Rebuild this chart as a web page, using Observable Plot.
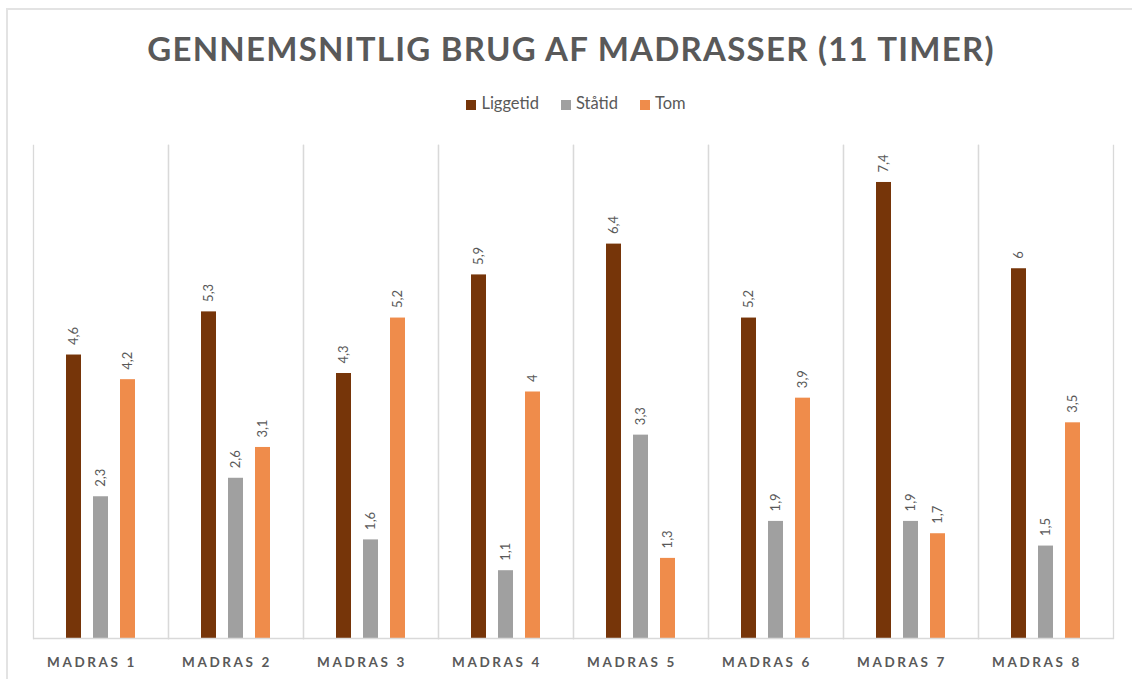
<!DOCTYPE html>
<html>
<head>
<meta charset="utf-8">
<script src="https://cdn.jsdelivr.net/npm/d3@7"></script>
<script src="https://cdn.jsdelivr.net/npm/@observablehq/plot@0.6"></script>
<style>
  html, body { margin: 0; padding: 0; background: #fff; }
  #wrap { position: relative; width: 1132px; height: 679px; overflow: hidden; font-family: Lato, "Open Sans", sans-serif; }
  #frame { position: absolute; left: 6px; top: 8px; width: 1140px; height: 700px; border: 2px solid #e3e3e3; box-sizing: border-box; }
  #title { position: absolute; left: 5px; top: 28px; width: 1132px; text-align: center; font-size: 33px; font-weight: 700; color: #595959; letter-spacing: 1.25px; }
  #legend { position: absolute; left: 10px; top: 93px; width: 1132px; display: flex; justify-content: center; gap: 22px; font-size: 16.5px; color: #595959; }
  #legend span.sw { display: inline-block; width: 10px; height: 10px; margin-right: 5px; vertical-align: -1px; }
  #chart { position: absolute; left: 0; top: 130px; }
  #chart svg [aria-label="fx-axis tick label"] text { letter-spacing: 2.6px; }
</style>
</head>
<body>
<div id="wrap">
  <div id="frame"></div>
  <div id="title">GENNEMSNITLIG BRUG AF MADRASSER (11 TIMER)</div>
  <div id="legend"></div>
  <div id="chart"></div>
</div>
<script>
const categories = ["MADRAS 1", "MADRAS 2", "MADRAS 3", "MADRAS 4", "MADRAS 5", "MADRAS 6", "MADRAS 7", "MADRAS 8"];
const seriesNames = ["Liggetid", "Ståtid", "Tom"];
const liggetid = [4.6, 5.3, 4.3, 5.9, 6.4, 5.2, 7.4, 6];
const staatid = [2.3, 2.6, 1.6, 1.1, 3.3, 1.9, 1.9, 1.5];
const tom = [4.2, 3.1, 5.2, 4, 1.3, 3.9, 1.7, 3.5];
const colors = ["#763509", "#a0a0a0", "#ef8c4b"];

const seriesValues = [liggetid, staatid, tom];
const data = [];
categories.forEach((c, i) => {
  seriesNames.forEach((s, j) => data.push({cat: c, series: s, value: seriesValues[j][i]}));
});

const legend = document.getElementById("legend");
seriesNames.forEach((s, j) => {
  const item = document.createElement("span");
  item.innerHTML = `<span class="sw" style="background:${colors[j]}"></span>${s}`;
  legend.appendChild(item);
});

const fmt = d => String(d).replace(".", ",");

const chart = Plot.plot({
  width: 1132,
  height: 549,
  marginLeft: 31,
  marginRight: 17,
  marginTop: 15,
  marginBottom: 41,
  style: {fontFamily: "Lato, 'Open Sans', sans-serif"},
  fx: {domain: categories, padding: 0, label: null, axis: null},
  x: {domain: seriesNames, paddingInner: 0.4545, paddingOuter: 1.19, axis: null},
  y: {domain: [0, 8], axis: null},
  color: {domain: seriesNames, range: colors},
  marks: [
    Plot.frame({anchor: "left", stroke: "#d9d9d9", strokeWidth: 1.3}),
    Plot.frame({anchor: "right", stroke: "#d9d9d9", strokeWidth: 1.3}),
    Plot.barY(data, {fx: "cat", x: "series", y: "value", fill: "series"}),
    Plot.ruleY([0], {stroke: "#d9d9d9", strokeWidth: 1.5}),
    Plot.text(data, {fx: "cat", x: "series", y: "value", text: d => fmt(d.value), rotate: -90, textAnchor: "start", dy: -10, fill: "#595959", fontSize: 13}),
    Plot.axisFx({anchor: "bottom", tickSize: 0, tickPadding: 19, dx: -9, fontSize: 13.5, fontWeight: 700, fill: "#595959", label: null})
  ]
});
document.getElementById("chart").appendChild(chart);
</script>
</body>
</html>
